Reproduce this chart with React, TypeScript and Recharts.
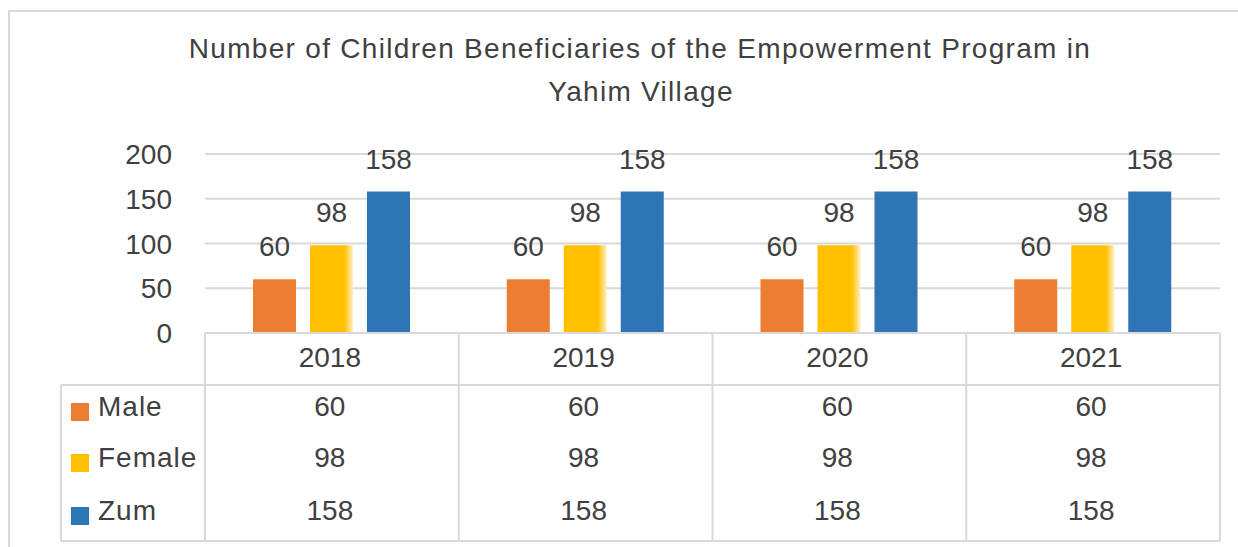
import React from 'react';
import { BarChart, Bar, XAxis, YAxis, CartesianGrid, LabelList } from 'recharts';

const years = ['2018', '2019', '2020', '2021'];
const male = [60, 60, 60, 60];
const female = [98, 98, 98, 98];
const zum = [158, 158, 158, 158];
const yTicks = [0, 50, 100, 150, 200];
const seriesNames = ['Male', 'Female', 'Zum'];
const seriesColors = ['#ED7D31', '#FFC000', '#2E75B6'];
const titleLines = ['Number of Children Beneficiaries of the Empowerment Program in', 'Yahim Village'];

const data = years.map((y, i) => ({ year: y, Male: male[i], Female: female[i], Zum: zum[i] }));

const W = 1238;
const H = 547;
const PLOT_L = 205;
const PLOT_R = 1220;
const PLOT_T = 154;
const PLOT_B = 333;
const BAND = (PLOT_R - PLOT_L) / years.length;
const TABLE_MID = 385;
const TABLE_BOT = 541;
const LEGEND_L = 61;
const ROW_BASE = [416, 467, 520];
const YEAR_BASE = 367;
const FONT = '"Liberation Sans", Arial, sans-serif';
const TXT = '#404040';
const LINE = '#d9d9d9';

const YTick = (props: any) => {
  const { x, y, payload } = props;
  return (
    <text x={x} y={y} dy={10} textAnchor="end" fontFamily={FONT} fontSize={28} fill={TXT}>
      {payload.value}
    </text>
  );
};

const ColumnTick = (props: any) => {
  const { x, payload, index } = props;
  const i = typeof index === 'number' ? index : payload.index;
  const left = x - BAND / 2;
  const right = x + BAND / 2;
  const vals = [male[i], female[i], zum[i]];
  return (
    <g>
      <line x1={left} y1={PLOT_B} x2={left} y2={TABLE_BOT} stroke={LINE} strokeWidth={2} />
      {i === years.length - 1 && (
        <line x1={right} y1={PLOT_B} x2={right} y2={TABLE_BOT} stroke={LINE} strokeWidth={2} />
      )}
      <text x={x - 2} y={YEAR_BASE} textAnchor="middle" fontFamily={FONT} fontSize={28} fill={TXT}>
        {payload.value}
      </text>
      {vals.map((v, k) => (
        <text key={k} x={x - 2} y={ROW_BASE[k]} textAnchor="middle" fontFamily={FONT} fontSize={28} fill={TXT}>
          {v}
        </text>
      ))}
    </g>
  );
};

export default function App() {
  return (
    <div style={{ position: 'absolute', left: 0, top: 0, width: W, height: H, background: '#fff' }}>
      <BarChart
        width={W}
        height={H}
        data={data}
        margin={{ top: PLOT_T, right: W - PLOT_R, bottom: H - PLOT_B - 30, left: PLOT_L - 60 }}
        barSize={43}
        barGap={14}
      >
        <defs>
          <linearGradient id="femaleGrad" x1="0" y1="0" x2="1" y2="0">
            <stop offset="0" stopColor="#FFC000" />
            <stop offset="0.8" stopColor="#FFC000" />
            <stop offset="1" stopColor="#FFF0C4" />
          </linearGradient>
        </defs>
        <CartesianGrid vertical={false} stroke={LINE} strokeWidth={2} />
        <YAxis
          width={60}
          domain={[0, 200]}
          ticks={yTicks}
          axisLine={false}
          tickLine={false}
          tickSize={0}
          tickMargin={33}
          tick={<YTick />}
        />
        <XAxis
          dataKey="year"
          height={30}
          interval={0}
          axisLine={{ stroke: LINE, strokeWidth: 2 }}
          tickLine={false}
          tickSize={0}
          tickMargin={0}
          tick={<ColumnTick />}
        />
        {seriesNames.map((name, k) => (
          <Bar
            key={name}
            dataKey={name}
            fill={k === 1 ? 'url(#femaleGrad)' : seriesColors[k]}
            isAnimationActive={false}
          >
            <LabelList
              dataKey={name}
              position="top"
              offset={23}
              fontFamily={FONT}
              fontSize={28}
              fill={TXT}
            />
          </Bar>
        ))}
      </BarChart>
      <svg
        width={W}
        height={H}
        style={{ position: 'absolute', left: 0, top: 0, pointerEvents: 'none' }}
      >
        <line x1={8} y1={11} x2={W} y2={11} stroke={LINE} strokeWidth={2} />
        <line x1={9} y1={11} x2={9} y2={H} stroke={LINE} strokeWidth={2} />
        <line x1={LEGEND_L} y1={TABLE_MID} x2={PLOT_R} y2={TABLE_MID} stroke={LINE} strokeWidth={2} />
        <line x1={LEGEND_L} y1={TABLE_BOT} x2={PLOT_R} y2={TABLE_BOT} stroke={LINE} strokeWidth={2} />
        <line x1={LEGEND_L} y1={TABLE_MID} x2={LEGEND_L} y2={TABLE_BOT} stroke={LINE} strokeWidth={2} />
        <text x={640} y={58} textAnchor="middle" fontFamily={FONT} fontSize={28} letterSpacing={1.3} fill={TXT}>
          {titleLines[0]}
        </text>
        <text x={641} y={101} textAnchor="middle" fontFamily={FONT} fontSize={28} letterSpacing={1.3} fill={TXT}>
          {titleLines[1]}
        </text>
        {seriesNames.map((name, k) => (
          <g key={name}>
            <rect x={71} y={ROW_BASE[k] - 13} width={18} height={18} fill={seriesColors[k]} />
            <text x={98} y={ROW_BASE[k]} fontFamily={FONT} fontSize={28} letterSpacing={1} fill={TXT}>
              {name}
            </text>
          </g>
        ))}
      </svg>
    </div>
  );
}
